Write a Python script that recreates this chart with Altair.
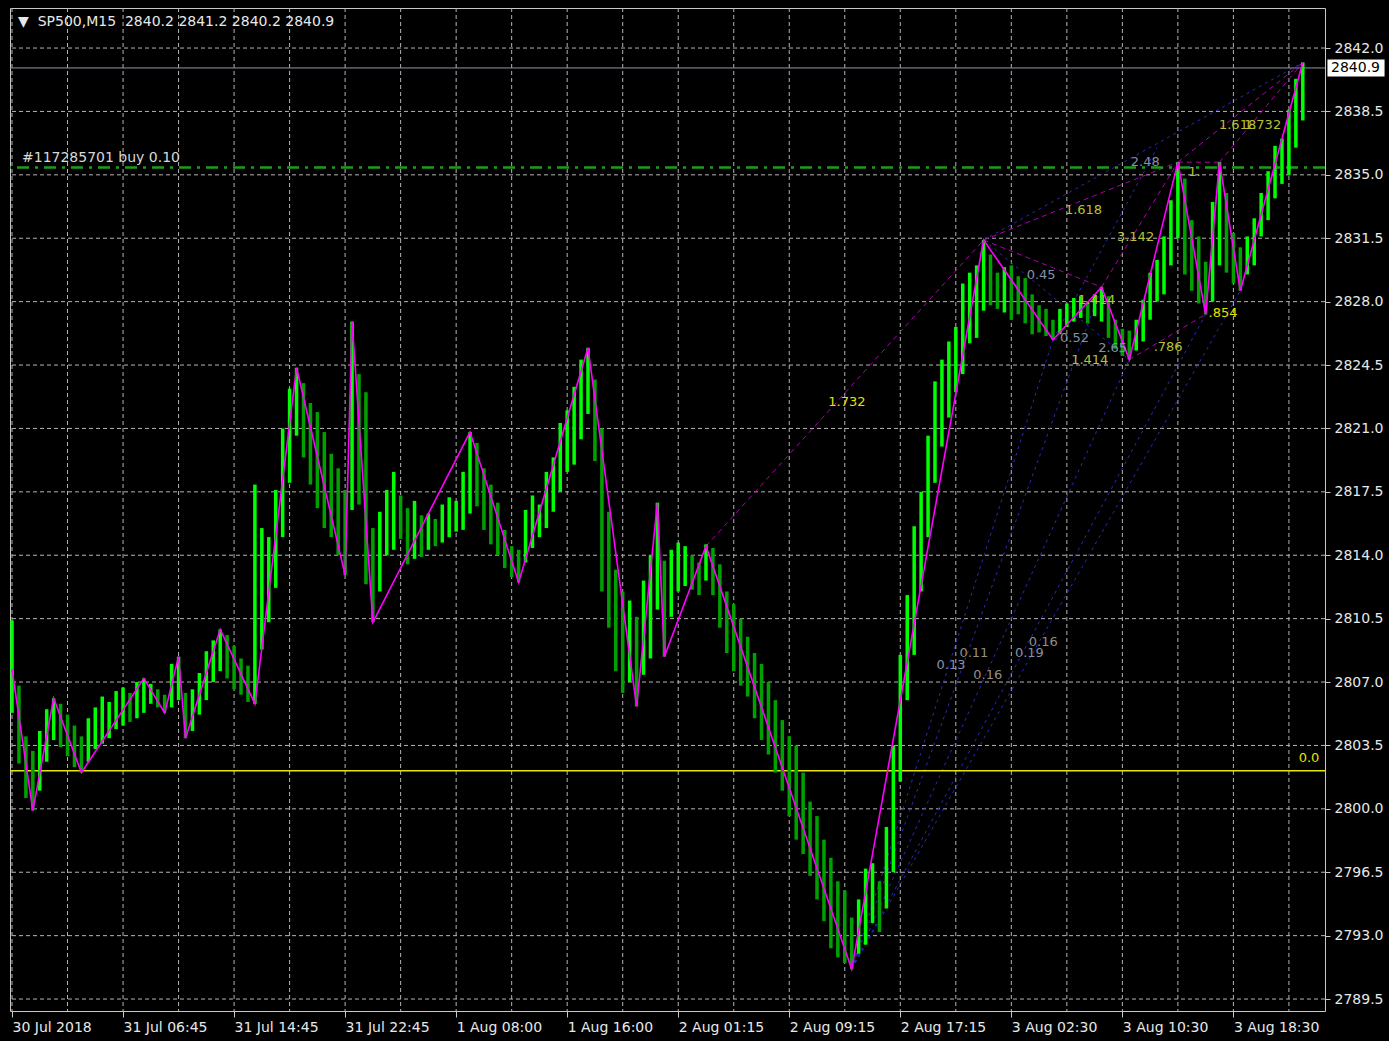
import json
import altair as alt
import pandas as pd

# ---------------- data ----------------
bar_high = [2810.4, 2806.8, 2804.0, 2803.2, 2804.3, 2805.5, 2806.1, 2805.8, 2805.2, 2804.6,
            2804.0, 2805.0, 2805.6, 2806.2, 2805.9, 2806.5, 2806.7, 2806.4, 2807.0, 2807.2,
            2806.9, 2806.6, 2806.3, 2808.0, 2808.4, 2806.4, 2806.6, 2807.5, 2808.7, 2809.3,
            2809.9, 2809.6, 2809.0, 2808.3, 2807.9, 2817.9, 2815.5, 2815.0, 2817.6, 2821.0,
            2823.2, 2824.35, 2823.5, 2822.4, 2821.9, 2820.8, 2819.6, 2818.8, 2817.6, 2826.9,
            2824.0, 2823.0, 2815.5, 2816.4, 2817.6, 2818.6, 2817.3, 2816.6, 2817.0, 2816.2,
            2816.3, 2816.0, 2816.8, 2817.2, 2817.0, 2818.6, 2820.8, 2820.2, 2818.8, 2817.9,
            2816.9, 2815.4, 2814.5, 2814.3, 2816.5, 2817.3, 2816.8, 2818.6, 2819.4, 2821.3,
            2822.0, 2823.3, 2824.8, 2825.45, 2823.7, 2821.0, 2816.4, 2813.2, 2812.0, 2811.5,
            2810.6, 2812.6, 2814.0, 2816.9, 2813.7, 2814.3, 2814.7, 2814.5, 2814.0, 2813.6,
            2814.6, 2814.4, 2813.5, 2812.0, 2811.3, 2810.5, 2809.5, 2808.6, 2808.0, 2807.0,
            2806.0, 2804.9, 2804.0, 2803.5, 2802.0, 2800.4, 2799.6, 2798.3, 2797.3, 2796.0,
            2795.5, 2794.0, 2795.0, 2796.7, 2797.0, 2796.0, 2799.0, 2803.5, 2808.5, 2811.8,
            2815.6, 2817.5, 2820.6, 2823.6, 2824.8, 2825.8, 2826.6, 2829.0, 2829.6, 2830.0,
            2831.4, 2830.6, 2829.6, 2829.9, 2830.0, 2829.4, 2829.3, 2828.4, 2827.8, 2827.6,
            2827.0, 2827.6, 2827.9, 2828.2, 2828.3, 2828.0, 2828.4, 2828.8, 2828.3, 2827.0,
            2826.5, 2826.4, 2827.0, 2828.1, 2829.6, 2830.3, 2831.6, 2833.6, 2835.7, 2834.8,
            2832.5, 2831.6, 2830.2, 2833.5, 2835.7, 2834.0, 2831.8, 2831.0, 2831.6, 2832.6,
            2834.0, 2835.2, 2836.6, 2837.0, 2838.6, 2840.3, 2841.2]
bar_low = [2805.3, 2802.5, 2800.6, 2799.9, 2801.0, 2802.6, 2803.8, 2803.4, 2802.9, 2802.3,
           2802.0, 2802.6, 2803.3, 2803.6, 2803.9, 2804.4, 2804.6, 2804.8, 2805.0, 2805.3,
           2805.8, 2805.6, 2805.3, 2805.6, 2806.0, 2803.9, 2804.3, 2805.2, 2806.0, 2807.0,
           2807.6, 2807.2, 2806.6, 2806.3, 2805.9, 2805.8, 2808.8, 2810.3, 2812.2, 2815.0,
           2818.0, 2820.6, 2819.4, 2817.9, 2816.6, 2815.5, 2815.0, 2814.0, 2812.9, 2816.5,
           2816.8, 2812.4, 2810.3, 2812.0, 2814.0, 2814.3, 2814.9, 2813.5, 2813.8, 2813.9,
           2814.3, 2814.5, 2814.7, 2815.0, 2815.3, 2815.4, 2816.3, 2816.7, 2815.4, 2814.6,
           2814.0, 2813.3, 2812.8, 2812.5, 2813.6, 2814.4, 2815.0, 2815.5, 2816.4, 2817.5,
           2818.6, 2819.0, 2820.4, 2821.8, 2819.2, 2812.0, 2810.0, 2807.6, 2806.4, 2807.0,
           2805.65, 2807.4, 2808.3, 2811.0, 2808.4, 2810.6, 2812.0, 2812.3, 2812.1, 2811.8,
           2812.6, 2811.8, 2810.0, 2808.6, 2807.6, 2806.8, 2806.2, 2805.0, 2803.8, 2803.0,
           2802.0, 2801.0, 2799.6, 2798.3, 2797.5, 2796.3, 2795.0, 2793.8, 2792.3, 2791.8,
           2791.5, 2791.15, 2792.0, 2792.5, 2793.7, 2793.2, 2794.5, 2796.5, 2801.5, 2806.0,
           2808.5, 2812.0, 2815.0, 2818.0, 2820.0, 2821.6, 2823.0, 2824.0, 2825.7, 2826.0,
           2827.5, 2827.8, 2827.6, 2827.4, 2827.0, 2827.3, 2826.8, 2826.2, 2826.3, 2826.1,
           2825.9, 2826.2, 2826.6, 2826.9, 2827.1, 2826.8, 2827.2, 2826.9, 2826.0, 2825.4,
           2825.0, 2824.8, 2825.3, 2825.8, 2827.0, 2828.0, 2828.4, 2830.0, 2831.5, 2829.5,
           2828.6, 2827.9, 2827.3, 2828.0, 2830.0, 2829.6, 2829.0, 2828.6, 2829.5, 2830.0,
           2831.6, 2832.5, 2833.7, 2834.5, 2835.0, 2836.5, 2838.0]

# zigzag pivots (bar index, price)
zz_k = [0, 3, 6, 10, 19, 22, 24, 25, 30, 35, 41, 48, 49, 52, 66, 73, 83, 90, 93, 94,
        100, 121, 140, 150, 157, 161, 168, 172, 174, 177, 186]
zz_p = [2807.7, 2799.9, 2806.1, 2802.0, 2807.2, 2805.3, 2808.4, 2803.9, 2809.9, 2805.8,
        2824.35, 2812.9, 2826.9, 2810.3, 2820.8, 2812.5, 2825.45, 2805.65, 2816.9, 2808.4,
        2814.5, 2791.15, 2831.4, 2825.9, 2828.8, 2824.8, 2835.7, 2827.3, 2835.7, 2828.6, 2841.2]

# fibo / projection lines (magenta)
mag_k1 = [100, 140, 140, 157, 161, 168, 168, 174]
mag_p1 = [2814.5, 2831.4, 2831.4, 2828.8, 2824.8, 2835.7, 2835.7, 2835.7]
mag_k2 = [140, 168, 157, 168, 172, 174, 186, 186]
mag_p2 = [2831.4, 2835.7, 2828.8, 2835.7, 2827.3, 2835.7, 2841.2, 2841.2]
# time-projection lines (blue)
blu_k1 = [121, 121, 121, 121, 121, 140, 140, 150]
blu_p1 = [2791.15, 2791.15, 2791.15, 2791.15, 2791.15, 2831.4, 2831.4, 2825.9]
blu_k2 = [150, 157, 161, 172, 177, 161, 186, 165]
blu_p2 = [2825.9, 2828.8, 2824.8, 2827.3, 2828.6, 2824.8, 2841.2, 2836.5]

# text labels on the chart
lbl_text = ["1.732", "1.618", "3.142", "2.48", "1.", "1.618", "1.732", "0.45", "1.414", "0.52",
            "2.65", "1.414", ".786", ".854", "0.0", "0.13", "0.11", "0.16", "0.19", "0.16"]
lbl_k = [120.3, 154.4, 161.9, 163.3, 170.4, 176.6, 180.2, 148.3, 156.3, 153.1,
         158.6, 155.3, 166.6, 174.5, 186.9, 135.3, 138.6, 140.6, 146.6, 148.6]
lbl_p = [2822.46, 2833.06, 2831.57, 2835.71, 2835.15, 2837.75, 2837.75, 2829.47, 2828.09, 2825.99,
         2825.44, 2824.78, 2825.49, 2827.37, 2802.8, 2807.94, 2808.6, 2807.39, 2808.6, 2809.21]
lbl_kind = ["level", "ratio", "ratio", "time", "ratio", "ratio", "ratio", "time", "ratio", "time",
            "time", "ratio", "ratio", "level", "level", "time", "time2", "time2", "time", "time2"]

x_tick_k = [0, 16, 32, 48, 64, 80, 96, 112, 128, 144, 160, 176]
x_tick_labels = ["30 Jul 2018", "31 Jul 06:45", "31 Jul 14:45", "31 Jul 22:45", "1 Aug 08:00",
                 "1 Aug 16:00", "2 Aug 01:15", "2 Aug 09:15", "2 Aug 17:15", "3 Aug 02:30",
                 "3 Aug 10:30", "3 Aug 18:30"]
grid_k = [0, 8, 16, 24, 32, 40, 48, 56, 64, 72, 80, 88, 96, 104, 112, 120, 128, 136, 144,
          152, 160, 168, 176, 184]
y_ticks = [2789.5, 2793.0, 2796.5, 2800.0, 2803.5, 2807.0, 2810.5, 2814.0, 2817.5, 2821.0,
           2824.5, 2828.0, 2831.5, 2835.0, 2838.5, 2842.0]

bid_price = 2840.9
order_price = 2835.4
level_price = 2802.1
header_text = "▼\u00a0\u00a0SP500,M15\u00a0\u00a02840.2 2841.2 2840.2 2840.9"
order_text = "#117285701 buy 0.10"

# ---------------- tables ----------------
assert len(bar_high) == len(bar_low)
bars = pd.DataFrame({"k": list(range(len(bar_high))), "high": bar_high, "low": bar_low})
mid = (bars["high"] + bars["low"]) / 2
bars["col"] = ["#00ff00" if i == 0 or mid[i] >= mid[i - 1] else "#00a000" for i in range(len(mid))]

kind_colors = {"level": "#e6e000", "ratio": "#b8c232", "time": "#8691a6", "time2": "#958d82"}

zz = pd.DataFrame({"i": list(range(len(zz_k))), "k": zz_k, "p": zz_p})
mag = pd.DataFrame({"k": mag_k1, "p": mag_p1, "k2": mag_k2, "p2": mag_p2})
blu = pd.DataFrame({"k": blu_k1, "p": blu_p1, "k2": blu_k2, "p2": blu_p2})
lbl = pd.DataFrame({"k": lbl_k, "p": lbl_p, "t": lbl_text,
                    "col": [kind_colors[c] for c in lbl_kind]})
gx = pd.DataFrame({"k": grid_k})
gy = pd.DataFrame({"p": y_ticks})

FONT = "DejaVu Sans"
xs = alt.Scale(domain=[-0.29, 189.2], nice=False, zero=False)
ys = alt.Scale(domain=[2788.84, 2844.21], nice=False, zero=False)
x_axis = alt.Axis(values=x_tick_k, labelExpr=json.dumps(x_tick_labels) + "[round(datum.value/16)]",
                  labelAlign="left", labelBaseline="top", labelPadding=3,
                  labelColor="#e8e8e8", labelFont=FONT, labelFontSize=14,
                  tickColor="#c8c8c8", tickSize=6, domain=False, grid=False, title=None,
                  labelOverlap=False, labelBound=False, labelFlush=False)
y_axis = alt.Axis(values=y_ticks, format=".1f", orient="right",
                  labelColor="#e8e8e8", labelFont=FONT, labelFontSize=14, labelPadding=4,
                  tickColor="#c8c8c8", tickSize=5, domain=False, grid=False, title=None,
                  labelOverlap=False, labelBound=False, labelFlush=False)


def X(f):
    return alt.X(f, type="quantitative", scale=xs, axis=x_axis)


def Y(f):
    return alt.Y(f, type="quantitative", scale=ys, axis=y_axis)


grid_v = alt.Chart(gx).mark_rule(color="#b4b4b4", strokeWidth=1, strokeDash=[4, 3]).encode(x=X("k"))
grid_h = alt.Chart(gy).mark_rule(color="#b4b4b4", strokeWidth=1, strokeDash=[4, 3]).encode(y=Y("p"))

blue_lines = alt.Chart(blu).mark_rule(color="#2a2ab8", strokeWidth=1, strokeDash=[3, 4]).encode(
    x=X("k"), y=Y("p"), x2="k2", y2="p2")
mag_lines = alt.Chart(mag).mark_rule(color="#b000b0", strokeWidth=1, strokeDash=[5, 4]).encode(
    x=X("k"), y=Y("p"), x2="k2", y2="p2")

hl = pd.DataFrame({"p": [bid_price]})
bid_line = alt.Chart(hl).mark_rule(color="#8d99a8", strokeWidth=1).encode(y=Y("p"))
order_line = alt.Chart(pd.DataFrame({"p": [order_price]})).mark_rule(
    color="#1f9a1f", strokeWidth=2.5, strokeDash=[12, 6, 3, 6]).encode(y=Y("p"))
level_line = alt.Chart(pd.DataFrame({"p": [level_price]})).mark_rule(
    color="#e6e600", strokeWidth=1.5).encode(y=Y("p"))

bar_layer = alt.Chart(bars).mark_rule(strokeWidth=3.5).encode(
    x=X("k"), y=Y("low"), y2="high", color=alt.Color("col:N", scale=None))

zig = alt.Chart(zz).mark_line(color="#ff00ff", strokeWidth=1.6).encode(
    x=X("k"), y=Y("p"), order="i:Q")

labels = alt.Chart(lbl).mark_text(font=FONT, fontSize=13, align="center", baseline="middle").encode(
    x=X("k"), y=Y("p"), text="t:N", color=alt.Color("col:N", scale=None))

price_box = alt.Chart(hl).mark_point(shape="M-1.68,-0.5H1.68V0.5H-1.68Z", filled=True,
                                     color="#ffffff", opacity=1, size=1156, strokeWidth=0).encode(
    x=alt.value(1346), y=Y("p"))
price_txt = alt.Chart(hl).mark_text(font=FONT, fontSize=14, align="left", baseline="middle",
                                    color="#000000").encode(
    x=alt.value(1321), y=Y("p"), text=alt.value(f"{bid_price:.1f}"))

header = alt.Chart(pd.DataFrame({"t": [header_text]})).mark_text(
    font=FONT, fontSize=14, align="left", baseline="middle", color="#e8e8e8").encode(
    x=alt.value(8), y=alt.value(14), text="t:N")
order_lbl = alt.Chart(pd.DataFrame({"p": [order_price], "t": [order_text]})).mark_text(
    font=FONT, fontSize=14, align="left", baseline="bottom", dy=-3, color="#d8d8d8").encode(
    x=alt.value(12), y=Y("p"), text="t:N")

chart = alt.layer(
    grid_v, grid_h, blue_lines, mag_lines, bid_line, order_line, level_line,
    bar_layer, zig, labels, price_box, price_txt, header, order_lbl
).properties(
    width=1315, height=1003,
    autosize=alt.AutoSizeParams(type="none"),
    padding={"left": 10, "top": 8, "right": 64, "bottom": 30},
    background="#000000",
).configure_view(stroke="#c8c8c8", strokeWidth=1)

chart.save("out.html", embed_options={"renderer": "svg", "actions": False})
